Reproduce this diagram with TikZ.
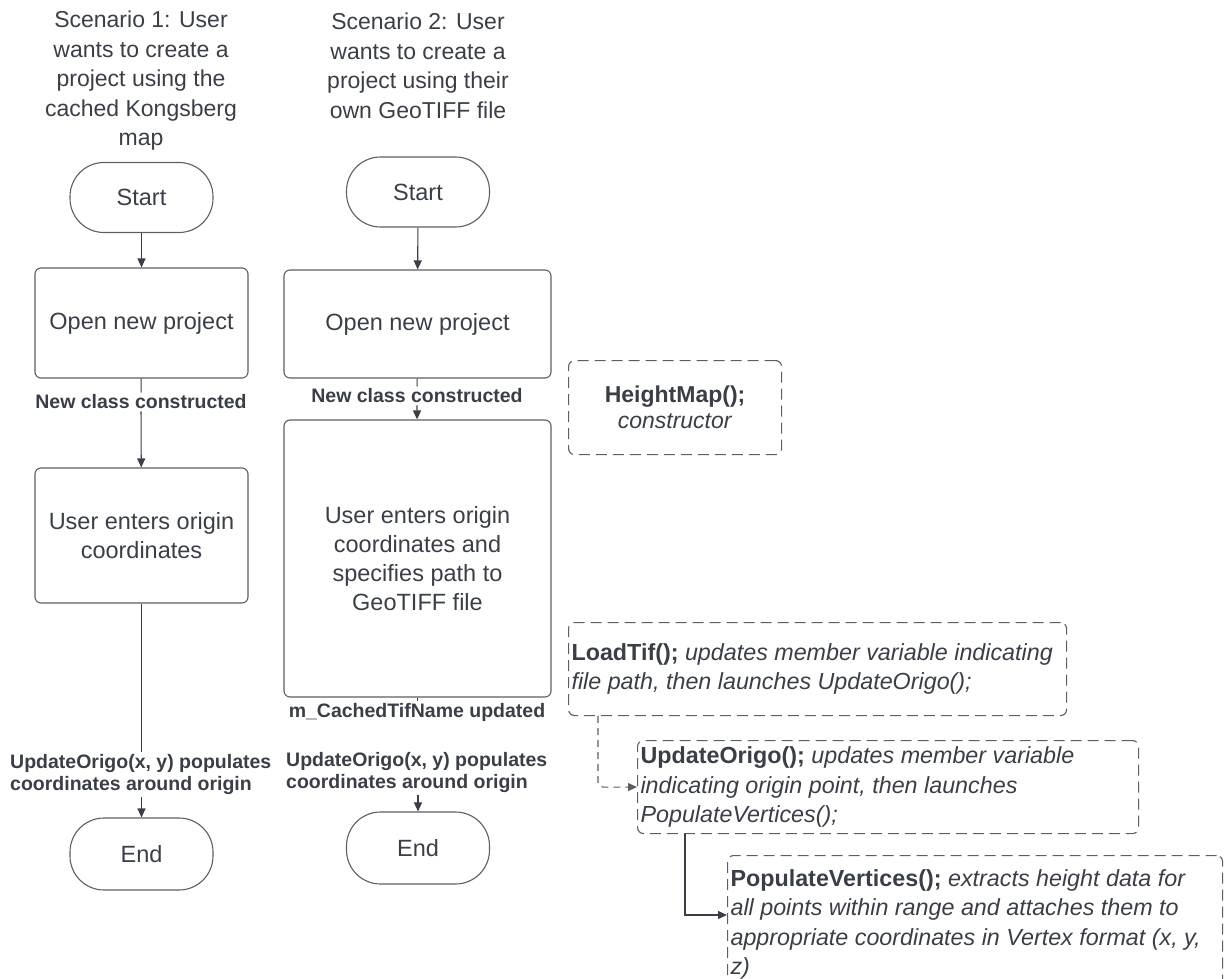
\documentclass[tikz,border=0pt]{standalone}
\usepackage{fontspec}
\setmainfont{Liberation Sans}
\usetikzlibrary{arrows.meta,positioning}
\definecolor{ink}{HTML}{3A3F47}
\definecolor{edge}{HTML}{5A5E65}
\begin{document}
\begin{tikzpicture}[x=1pt,y=-1pt,
  every node/.style={text=ink},
  body/.style={font=\fontsize{23.5}{29}\selectfont},
  title/.style={font=\fontsize{23}{29.5}\selectfont,align=center,inner sep=0pt},
  procbox/.style={body,draw=edge,line width=1.1pt,rounded corners=6pt,align=center,inner sep=0pt},
  terminal/.style={body,draw=edge,line width=1.1pt,rounded corners=34pt,inner sep=0pt,minimum width=143pt,minimum height=70pt},
  edgelabel/.style={font=\fontsize{19.5}{22}\selectfont\bfseries,inner sep=2pt},
  notebox/.style={font=\fontsize{23.3}{29.5}\selectfont,draw=edge,line width=1.1pt,dash pattern=on 11pt off 6pt,rounded corners=6pt,align=flush left,inner xsep=3pt,inner ysep=0pt,anchor=north west},
  flow/.style={draw=ink,line width=1.1pt},
  tip/.style={-{Triangle[width=8pt,length=9pt]}}
]
\useasboundingbox (0,0) rectangle (1226,979);

% ---- scenario 1 ----
\node[title] (t1) at (141,81) {Scenario 1: User\\wants to create a\\project using the\\cached Kongsberg\\map};
\node[terminal] (s1) at (141.5,197.5) {Start};
\node[procbox,minimum width=213pt,minimum height=110pt] (o1) at (141.5,323) {Open new project};
\node[edgelabel] (nc1) at (141,402) {New class constructed};
\node[procbox,minimum width=213pt,minimum height=135pt] (u1) at (141.5,535.5) {User enters origin\\coordinates};
\node[edgelabel,anchor=north west,align=left] (uo1) at (8,752) {UpdateOrigo(x, y) populates\\coordinates around origin};
\node[terminal,minimum height=72pt] (e1) at (141.5,854) {End};

\draw[flow,tip] (s1) -- (o1);
\draw[flow] (o1) -- (nc1);
\draw[flow,tip] (nc1) -- (u1);
\draw[flow] (u1.south) -- (u1.south |- uo1.north);
\draw[flow,tip] (uo1.south -| e1.north) -- (e1.north);

% ---- scenario 2 ----
\node[title] (t2) at (418,66) {Scenario 2: User\\wants to create a\\project using their\\own GeoTIFF file};
\node[terminal] (s2) at (418,192) {Start};
\node[procbox,minimum width=267pt,minimum height=108pt] (o2) at (417.5,324) {Open new project};
\node[edgelabel] (nc2) at (417,396) {New class constructed};
\node[procbox,minimum width=267pt,minimum height=277pt] (u2) at (417.5,558.5) {User enters origin\\coordinates and\\specifies path to\\GeoTIFF file};
\node[edgelabel] (ct2) at (417,712) {m\_CachedTifName updated};
\node[edgelabel,anchor=north west,align=left] (uo2) at (284,750) {UpdateOrigo(x, y) populates\\coordinates around origin};
\node[terminal,minimum height=72pt] (e2) at (418,848) {End};

\draw[flow,tip] (s2) -- (o2);
\draw[flow] (o2) -- (nc2);
\draw[flow,tip] (nc2) -- (u2);
\draw[flow] (u2.south) -- (u2.south |- ct2.north);
\draw[flow,tip] (uo2.south -| e2.north) -- (e2.north);

% ---- method notes ----
\node[notebox,align=center,minimum width=213pt,minimum height=94pt,font=\fontsize{23}{26}\selectfont] (hm) at (568,360) {\textbf{HeightMap();}\\\textit{constructor}};
\node[notebox,text width=492pt,minimum height=93pt] (lt) at (568,622)
  {\mbox{\textbf{LoadTif();} \textit{updates member variable indicating}}\\\mbox{\textit{file path, then launches UpdateOrigo();}}};
\node[notebox,text width=495pt,minimum height=93pt] (uo) at (637,740)
  {\mbox{\textbf{UpdateOrigo();} \textit{updates member variable}}\\\mbox{\textit{indicating origin point, then launches}}\\\mbox{\textit{PopulateVertices();}}};
\node[notebox,text width=489pt,minimum height=138pt] (pv) at (727,855)
  {\mbox{\textbf{PopulateVertices();} \textit{extracts height data for}}\\\mbox{\textit{all points within range and attaches them to}}\\\mbox{\textit{appropriate coordinates in Vertex format (x, y,}}\\\mbox{\textit{z)}}};

\draw[draw=edge,line width=1.1pt,dash pattern=on 7pt off 5pt,rounded corners=5pt,tip] ([xshift=30pt]lt.south west) |- (uo.west);
\draw[flow,tip] ([xshift=48pt]uo.south west) |- ([yshift=-60pt]pv.north west);
\end{tikzpicture}
\end{document}
